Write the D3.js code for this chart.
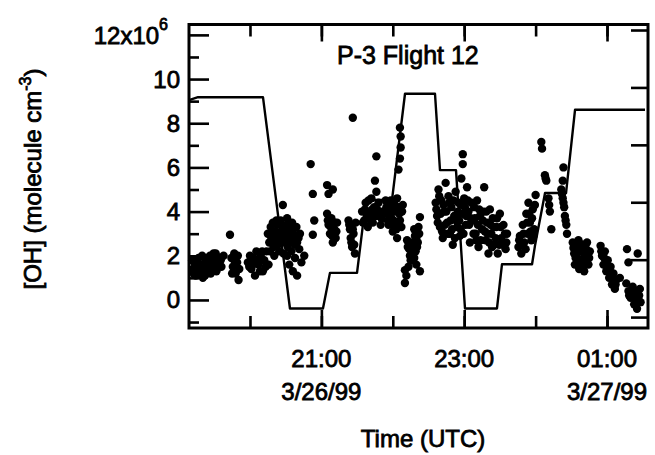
<!DOCTYPE html>
<html>
<head>
<meta charset="utf-8">
<script src="https://cdn.jsdelivr.net/npm/d3@7/dist/d3.min.js"></script>
<style>
    body { margin: 0; background: #fff; }
    svg { display: block; font-family: "Liberation Sans", Arial, sans-serif; }
    text { fill: #000; stroke: #000; stroke-width: 0.8px; }
</style>
</head>
<body>
<div id="area"></div>
<script>

// Flight profile (step line), time in hours since 3/26/99 00:00 UTC
const horasPerfil = [19.146, 19.272, 20.182, 20.560, 21.022, 21.120, 21.499, 21.625, 21.989, 22.171, 22.591,
    22.661, 22.885, 23.011, 23.459, 23.529, 23.950, 23.992, 24.132, 24.426, 24.552, 25.532]
const altitudeKm = [3.78, 3.83, 3.83, 0.15, 0.15, 0.77, 0.77, 2.04, 2.04, 3.89, 3.89,
    2.56, 2.56, 0.15, 0.15, 0.92, 0.92, 1.25, 2.16, 2.16, 3.61, 3.61]

// OH measurements [hour, OH x10^6 molecule cm-3]
const medidasOH = [
    // 19:10 - 19:40
    [19.2, 1.4], [19.22, 1.7], [19.24, 1.1], [19.26, 1.5], [19.28, 1.9], [19.3, 1.2], [19.32, 1.6], [19.34, 1.0],
    [19.36, 1.4], [19.38, 1.8], [19.4, 1.3], [19.42, 1.6], [19.44, 2.0], [19.46, 1.5], [19.48, 1.8], [19.5, 1.4],
    [19.52, 2.1], [19.54, 1.7], [19.57, 1.9], [19.6, 1.5], [19.63, 2.0],
    [19.19, 1.8], [19.21, 1.2], [19.25, 1.8], [19.29, 1.4], [19.33, 2.0], [19.37, 1.1], [19.41, 1.9], [19.45, 1.2],
    [19.49, 2.1], [19.53, 1.3], [19.56, 1.5], [19.59, 1.8],
    // 19:40 - 20:20
    [19.72, 2.95], [19.74, 1.9], [19.76, 1.5], [19.78, 2.1], [19.8, 1.2], [19.82, 1.7], [19.84, 0.9], [19.85, 1.4],
    [19.75, 1.2], [19.79, 1.7], [19.83, 2.0],
    [19.97, 1.7], [20.0, 2.0], [20.02, 1.4], [20.05, 1.9], [20.07, 1.1], [20.09, 2.2], [20.12, 1.6], [20.15, 2.0],
    [20.18, 1.3], [20.2, 1.8], [20.23, 2.2], [20.26, 1.6],
    [19.99, 1.5], [20.04, 1.6], [20.1, 1.8], [20.14, 1.3], [20.17, 2.2], [20.22, 1.5],
    // 20:15 - 20:45
    [20.25, 3.0], [20.27, 2.6], [20.29, 3.3], [20.3, 2.8], [20.32, 3.5], [20.33, 2.4], [20.35, 3.1], [20.36, 2.7],
    [20.38, 3.4], [20.4, 2.9], [20.41, 2.2], [20.43, 3.6], [20.44, 3.1], [20.46, 4.3], [20.46, 2.6], [20.48, 3.3],
    [20.5, 2.9], [20.52, 3.7], [20.53, 2.4], [20.55, 3.2], [20.57, 2.7], [20.59, 3.5], [20.61, 3.0], [20.63, 2.5],
    [20.65, 3.3], [20.68, 2.8],
    [20.28, 2.2], [20.31, 3.0], [20.34, 2.0], [20.37, 3.6], [20.39, 2.5], [20.42, 2.8], [20.45, 3.4], [20.47, 2.1],
    [20.49, 3.0], [20.51, 2.6], [20.54, 3.5], [20.56, 2.9], [20.6, 2.7], [20.62, 3.3], [20.66, 2.6], [20.7, 3.0],
    [20.52, 2.0], [20.55, 1.6], [20.58, 2.2], [20.6, 1.3], [20.63, 1.9], [20.66, 1.1], [20.69, 2.3], [20.72, 1.7], [20.76, 2.0],
    // 20:50 - 21:30
    [20.85, 6.15], [20.88, 4.8], [20.9, 3.6], [20.88, 2.95],
    [21.08, 5.2], [21.16, 5.0], [21.1, 4.8], [21.08, 3.9], [21.1, 3.4], [21.12, 3.0], [21.14, 3.7], [21.16, 2.6],
    [21.18, 3.2], [21.2, 2.8], [21.22, 3.5],
    [21.09, 3.6], [21.13, 3.3], [21.15, 2.9], [21.19, 3.5], [21.21, 3.1],
    [21.44, 8.25], [21.38, 3.6], [21.4, 3.2], [21.41, 2.8], [21.43, 2.4], [21.45, 3.0], [21.47, 2.1], [21.48, 3.5],
    [21.39, 3.4], [21.42, 2.6], [21.44, 3.2], [21.46, 2.5],
    // 21:30 - 22:10
    [21.77, 6.5], [21.75, 5.4], [21.77, 4.9], [21.57, 4.0], [21.6, 3.6], [21.62, 4.4], [21.65, 3.3], [21.67, 3.9],
    [21.7, 4.6], [21.72, 3.5], [21.74, 4.2], [21.76, 3.8], [21.8, 4.4], [21.83, 3.4], [21.85, 4.0],
    [21.58, 3.5], [21.61, 4.1], [21.64, 3.8], [21.66, 4.5], [21.69, 3.6], [21.71, 4.1], [21.73, 3.8], [21.78, 4.1],
    [21.81, 3.8], [21.84, 3.7],
    [22.1, 7.8], [22.11, 7.4], [22.11, 6.9], [22.1, 6.4], [22.08, 5.9], [21.9, 4.5], [21.92, 3.9], [21.94, 3.4],
    [21.96, 4.2], [21.98, 3.7], [22.0, 3.1], [22.02, 4.0], [22.04, 3.5], [22.06, 4.6], [22.06, 2.8], [22.09, 3.9],
    [22.12, 3.3], [22.14, 4.3],
    [21.91, 4.2], [21.93, 3.6], [21.95, 3.9], [21.97, 4.5], [21.99, 3.4], [22.01, 3.6], [22.03, 4.3], [22.05, 3.2],
    [22.07, 4.2], [22.1, 3.6], [22.13, 4.0],
    // 22:10 - 22:25
    [22.38, 3.75], [22.3, 3.2], [22.33, 2.8], [22.36, 3.3], [22.28, 2.5], [22.32, 2.2], [22.35, 2.6], [22.3, 1.9],
    [22.33, 1.6], [22.27, 2.0], [22.2, 2.7], [22.23, 2.3], [22.17, 1.35], [22.38, 1.3], [22.17, 0.77], [22.25, 1.8],
    [22.21, 2.4], [22.24, 2.0], [22.26, 2.6], [22.29, 2.2], [22.31, 2.9], [22.34, 2.4], [22.37, 3.0], [22.19, 1.1],
    [22.22, 1.5],
    // 22:35 - 23:05
    [22.98, 6.6], [22.98, 6.15], [22.6, 4.4], [22.62, 3.8], [22.64, 5.0], [22.66, 3.3], [22.68, 4.5], [22.7, 2.8],
    [22.72, 4.0], [22.74, 5.3], [22.76, 3.5], [22.78, 4.7], [22.8, 3.0], [22.82, 4.2], [22.84, 2.5], [22.86, 3.8],
    [22.88, 4.9], [22.9, 3.3], [22.92, 4.4], [22.94, 2.9], [22.96, 5.5], [22.98, 3.9], [23.0, 4.6], [23.02, 3.4],
    [23.04, 5.1], [23.06, 4.0], [23.08, 2.6], [23.1, 4.4],
    [22.61, 4.1], [22.63, 3.5], [22.65, 4.7], [22.67, 3.9], [22.69, 3.1], [22.71, 4.3], [22.73, 3.4], [22.75, 4.0],
    [22.77, 3.0], [22.79, 4.4], [22.81, 3.6], [22.83, 3.2], [22.85, 4.5], [22.87, 2.8], [22.89, 3.6], [22.91, 4.0],
    [22.93, 3.6], [22.95, 3.2], [22.97, 4.3], [22.99, 3.0], [23.01, 4.2], [23.03, 3.8], [23.05, 4.5], [23.07, 3.4],
    [23.09, 3.7],
    // 23:05 - 23:40
    [23.28, 5.1], [23.12, 3.6], [23.14, 4.2], [23.16, 3.0], [23.18, 4.5], [23.2, 2.4], [23.22, 3.8], [23.25, 3.2],
    [23.27, 4.0], [23.3, 2.7], [23.32, 3.5], [23.34, 2.1], [23.36, 4.1], [23.38, 3.0], [23.4, 3.7], [23.42, 2.5],
    [23.45, 3.3], [23.47, 2.1], [23.5, 3.9], [23.52, 2.8], [23.55, 3.4], [23.58, 2.3], [23.6, 3.0],
    [23.13, 3.0], [23.15, 3.7], [23.17, 2.7], [23.19, 3.4], [23.21, 4.1], [23.23, 2.7], [23.26, 3.6], [23.29, 3.1],
    [23.31, 4.0], [23.33, 3.0], [23.35, 2.6], [23.37, 3.4], [23.39, 2.4], [23.41, 3.3], [23.44, 2.8], [23.46, 3.7],
    [23.49, 2.5], [23.51, 3.3], [23.54, 2.5], [23.57, 3.0], [23.59, 2.6],
    // 23:45 - 24:00
    [23.76, 2.4], [23.78, 2.9], [23.8, 2.1], [23.82, 3.4], [23.84, 2.6], [23.87, 3.9], [23.89, 3.0], [23.9, 4.4],
    [23.92, 3.5], [23.94, 2.7], [23.96, 4.1], [23.98, 3.2], [24.0, 4.75],
    [23.77, 2.7], [23.81, 2.5], [23.83, 3.0], [23.86, 2.3], [23.88, 3.5], [23.91, 3.9], [23.93, 3.1], [23.95, 3.7],
    [23.97, 2.9], [23.99, 4.3],
    // 00:05 - 00:30
    [24.08, 7.15], [24.09, 6.85], [24.13, 5.65], [24.15, 5.4], [24.39, 6.0], [24.22, 3.2], [24.18, 4.6], [24.2, 4.0],
    [24.38, 5.4], [24.36, 5.0], [24.38, 4.6], [24.4, 4.2], [24.41, 3.8], [24.43, 3.4], [24.44, 3.0],
    [24.37, 4.8], [24.39, 4.4], [24.42, 3.6], [24.14, 5.5], [24.19, 4.3],
    // 00:30 - 01:30
    [24.52, 2.6], [24.54, 2.1], [24.55, 1.6], [24.57, 2.4], [24.58, 1.9], [24.6, 2.7], [24.61, 1.4], [24.63, 2.2],
    [24.65, 1.7], [24.66, 2.5], [24.68, 1.3], [24.7, 2.0], [24.72, 2.6], [24.74, 1.6], [24.76, 2.2],
    [24.53, 2.35], [24.56, 1.9], [24.59, 2.2], [24.62, 1.8], [24.64, 2.5], [24.67, 1.9], [24.69, 1.6], [24.71, 2.3],
    [24.73, 1.9], [24.75, 1.9],
    [24.91, 2.45], [24.93, 2.0], [24.95, 1.6], [24.97, 2.2], [24.99, 1.3], [25.01, 1.8], [25.03, 1.0], [25.05, 1.5],
    [25.07, 0.7], [25.09, 1.2], [25.11, 0.5], [25.13, 0.9], [25.18, 1.0],
    [24.92, 2.2], [24.96, 1.9], [25.0, 1.5], [25.04, 1.3], [25.08, 0.95], [25.12, 0.7],
    [25.28, 2.3], [25.43, 2.1], [25.3, 1.7], [25.27, 0.75], [25.3, 0.4], [25.33, 0.1], [25.36, 0.6], [25.38, -0.2],
    [25.4, 0.3], [25.42, -0.4], [25.44, 0.0], [25.46, 0.5], [25.47, -0.1],
    [25.31, 0.2], [25.35, 0.3], [25.39, 0.1], [25.41, 0.0], [25.45, 0.2]
]

// Ticks and labels
const horasTodas = [20, 21, 22, 23, 24, 25]
const horasMaiores = [21, 23, 25]
const datas = ["3/26/99", "", "3/27/99"]
const ohMaiores = [0, 2, 4, 6, 8, 10, 12]
const ohMenores = [-1, 1, 3, 5, 7, 9, 11]
const altTicks = [0, 1, 2, 3, 4, 5]

// Plot box
const esq = 189, dir = 648, topo = 24.5, base = 328

let svg = d3.select('#area').append('svg')
    .attr('width', 655)
    .attr('height', 455)

// Scales
let x = d3.scaleLinear().domain([19.146, 25.574]).range([esq, dir])
let y = d3.scaleLinear().domain([-1.27, 12.47]).range([base, topo])
let yAlt = d3.scaleLinear().domain([-0.19, 5.096]).range([base, topo])

// Step line (flight altitude)
let linha = d3.line()
    .x((d, i) => x(horasPerfil[i]))
    .y(d => yAlt(d))

svg.append('path')
    .datum(altitudeKm)
    .attr('d', linha)
    .attr('fill', 'none')
    .attr('stroke', '#000')
    .attr('stroke-width', 2.4)
    .attr('stroke-linejoin', 'round')

// OH points
svg.append('g')
    .selectAll('circle')
    .data(medidasOH)
    .join('circle')
    .attr('cx', d => x(d[0]))
    .attr('cy', d => y(d[1]))
    .attr('r', 4.2)
    .attr('fill', '#000')

// Axes helper: ticks only, drawn inward
function eixo(gerador, transform) {
    let g = svg.append('g')
        .attr('transform', transform)
        .call(gerador)
    g.select('.domain').remove()
    g.selectAll('.tick line').attr('stroke', '#000').attr('stroke-width', 2.6)
    g.selectAll('text').remove()
    return g
}

// Bottom and top time ticks
eixo(d3.axisBottom(x).tickValues(horasTodas).tickSize(-12), `translate(0,${base})`)
eixo(d3.axisBottom(x).tickValues(horasMaiores).tickSize(-18), `translate(0,${base})`)
eixo(d3.axisTop(x).tickValues(horasTodas).tickSize(-12), `translate(0,${topo})`)
eixo(d3.axisTop(x).tickValues(horasMaiores).tickSize(-17), `translate(0,${topo})`)

// Left OH ticks
eixo(d3.axisLeft(y).tickValues(ohMenores).tickSize(-10), `translate(${esq},0)`)
eixo(d3.axisLeft(y).tickValues(ohMaiores).tickSize(-20), `translate(${esq},0)`)

// Right ticks (altitude, no labels)
eixo(d3.axisRight(yAlt).tickValues(altTicks).tickSize(-17), `translate(${dir},0)`)

// Frame
svg.append('rect')
    .attr('x', esq)
    .attr('y', topo)
    .attr('width', dir - esq)
    .attr('height', base - topo)
    .attr('fill', 'none')
    .attr('stroke', '#000')
    .attr('stroke-width', 3)

// Time labels
let rotX = svg.append('g')
    .selectAll('text')
    .data(horasMaiores)
    .join('text')
    .attr('x', d => x(d))
    .attr('y', base + 39)
    .attr('text-anchor', 'middle')
    .style('font-size', '24px')

rotX.append('tspan')
    .text(d => String(d % 24).padStart(2, '0') + ':00')

rotX.append('tspan')
    .attr('x', d => x(d))
    .attr('dy', 33)
    .text((d, i) => datas[i])

// OH labels
svg.append('g')
    .selectAll('text')
    .data(ohMaiores.filter(d => d < 12))
    .join('text')
    .attr('x', esq - 9)
    .attr('y', d => y(d) + 8.5)
    .attr('text-anchor', 'end')
    .style('font-size', '24px')
    .text(d => d)

let rotTopo = svg.append('text')
    .attr('x', esq - 21)
    .attr('y', y(12) + 9)
    .attr('text-anchor', 'end')
    .style('font-size', '24px')
rotTopo.append('tspan').text('12x10')
rotTopo.append('tspan').attr('dy', -14).style('font-size', '16px').text('6')

// Title
svg.append('text')
    .attr('x', 337)
    .attr('y', 64)
    .style('font-size', '25px')
    .text('P-3 Flight 12')

// Axis titles
svg.append('text')
    .attr('x', 423)
    .attr('y', 447)
    .attr('text-anchor', 'middle')
    .style('font-size', '24px')
    .text('Time (UTC)')

let tituloY = svg.append('text')
    .attr('transform', 'translate(41,179) rotate(-90)')
    .attr('text-anchor', 'middle')
    .style('font-size', '24px')
tituloY.append('tspan').text('[OH] (molecule cm')
tituloY.append('tspan').attr('dy', -10).style('font-size', '16px').text('-3')
tituloY.append('tspan').attr('dy', 10).text(')')

</script>
</body>
</html>
